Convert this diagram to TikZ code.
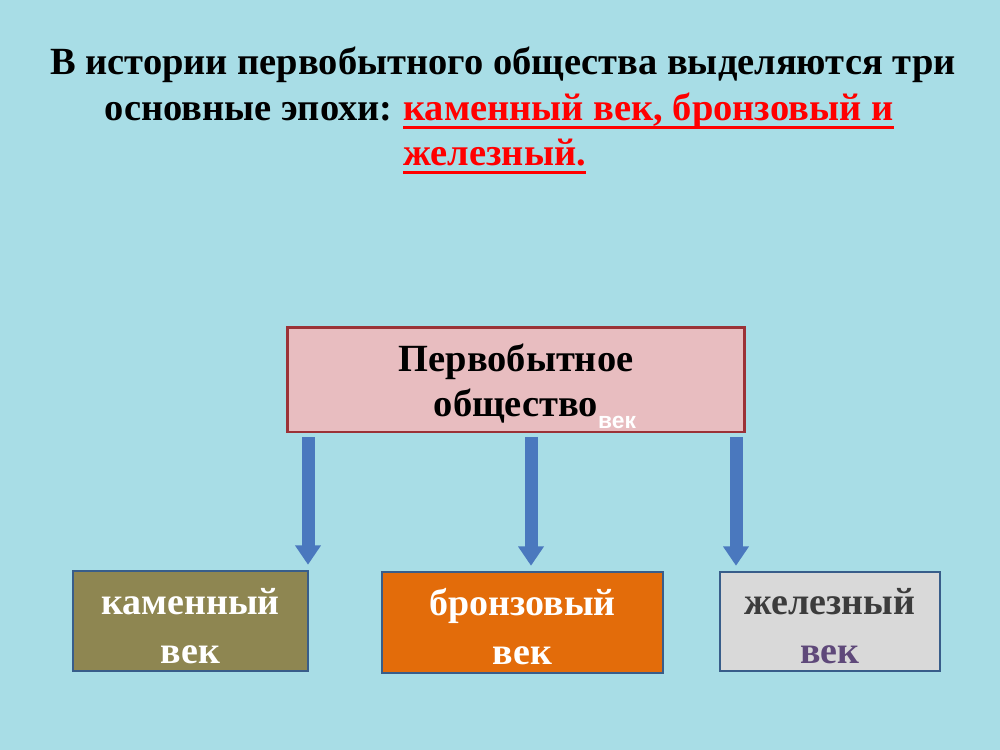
\documentclass[tikz,border=0pt]{standalone}
\usepackage{fontspec}
\setmainfont{Liberation Serif}
\newfontfamily\headfont{Liberation Serif}
\newfontfamily\agefont{Liberation Serif}
\newfontfamily\tagfont{Liberation Sans}
\usetikzlibrary{arrows.meta, positioning}

\definecolor{bgblue}{RGB}{168,221,230}
\definecolor{pinkfill}{RGB}{232,189,192}
\definecolor{pinkedge}{RGB}{155,50,55}
\definecolor{boxedge}{RGB}{56,93,138}
\definecolor{arrowblue}{RGB}{74,120,190}
\definecolor{stonefill}{RGB}{142,134,81}
\definecolor{bronzefill}{RGB}{227,108,10}
\definecolor{ironfill}{RGB}{217,217,217}
\definecolor{irontext}{RGB}{60,60,60}
\definecolor{ironvek}{RGB}{95,73,122}

% extra room above the first line of a box
\newcommand{\topgap}{\rule{0pt}{20.5pt}}

\begin{document}
\begin{tikzpicture}[x=0.02cm, y=-0.02cm,
  headline/.style={inner sep=0pt,
    font=\headfont\bfseries\fontsize{21.9}{25}\selectfont},
  redline/.style={draw=red, line width=1.7pt},
  rootbox/.style={draw=pinkedge, fill=pinkfill, line width=1.7pt,
    minimum width=9.16cm, minimum height=2.1cm, align=center,
    font=\headfont\bfseries\fontsize{21.9}{25.6}\selectfont},
  agebox/.style={draw=boxedge, line width=1.1pt, align=center,
    font=\agefont\bfseries\fontsize{21.6}{27.9}\selectfont},
  blockarrow/.style={-{Triangle[width=14pt,length=11pt]}, line width=7.4pt,
    draw=arrowblue, shorten <=2pt, shorten >=3pt}
]

% background
\fill[bgblue] (0,0) rectangle (1000,750);

% heading
\node[headline, anchor=base] (head1) at (503,75) {В истории первобытного общества выделяются три};
\node[headline, anchor=base west, text=red] (head2r) at (403,120) {каменный век, бронзовый и};
\node[headline, base left=0.2cm of head2r] (head2) {основные эпохи:};
\node[headline, anchor=base west, text=red] (head3r) at (403,165) {железный.};
\draw[redline] ([yshift=-4pt]head2r.base west) -- ([yshift=-4pt]head2r.base east);
\draw[redline] ([yshift=-4pt]head3r.base west) -- ([yshift=-4pt]head3r.base east);

% root
\node[rootbox] (root) at (516,379.5)
  {\topgap Первобытное\\общество\rlap{\raisebox{-6.8pt}[0pt][0pt]{\tagfont\bfseries\fontsize{13}{13}\selectfont\color{white}век}}};

% ages
\node[agebox, fill=stonefill, text=white, minimum width=4.7cm, minimum height=2cm]
  (stone) at (190.5,621) {\topgap каменный\\век};
\node[agebox, fill=bronzefill, text=white, minimum width=5.62cm, minimum height=2.02cm]
  (bronze) at (522.5,622.5) {\topgap бронзовый\\век};
\node[agebox, fill=ironfill, text=irontext, minimum width=4.4cm, minimum height=1.98cm]
  (iron) at (830,621.5) {\topgap железный\\\textcolor{ironvek}{век}};

% arrows
\coordinate (a1) at (308,0);
\coordinate (a2) at (531,0);
\coordinate (a3) at (736,0);
\draw[blockarrow] (root.south -| a1) -- (stone.north -| a1);
\draw[blockarrow] (root.south -| a2) -- (bronze.north -| a2);
\draw[blockarrow] (root.south -| a3) -- (iron.north -| a3);

\end{tikzpicture}
\end{document}
